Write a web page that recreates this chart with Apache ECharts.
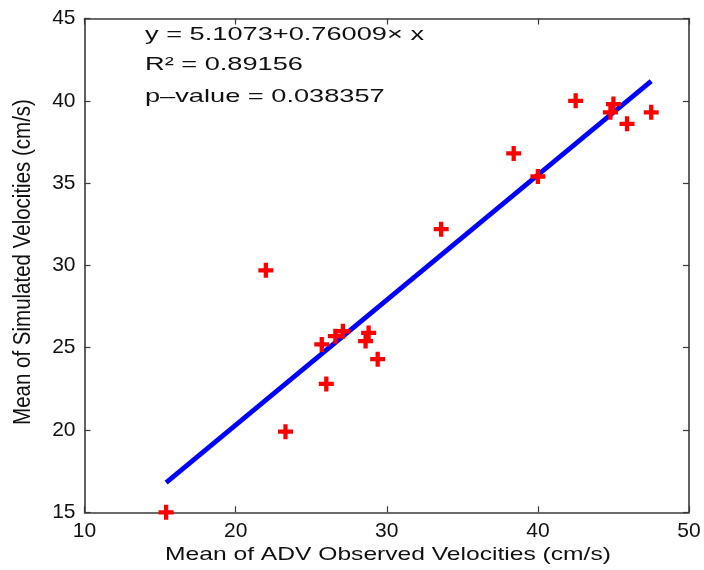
<!DOCTYPE html>
<html>
<head>
<meta charset="utf-8">
<script src="https://cdn.jsdelivr.net/npm/echarts@6/dist/echarts.min.js"></script>
<style>html,body{margin:0;padding:0;background:#fff}#c{width:704px;height:570px}</style>
</head>
<body>
<div id="c"></div>
<script>
// Observed (x) and simulated (y) mean velocities, cm/s
var obsX = [15.4, 23.3, 26.0, 25.7, 26.6, 27.1, 28.8, 28.6, 29.4, 22.0, 33.6, 40.0, 38.4, 42.5, 45.0, 44.8, 45.9, 47.5];
var simY = [15.0, 19.9, 22.8, 25.2, 25.7, 26.0, 25.9, 25.4, 24.3, 29.7, 32.2, 35.4, 36.8, 40.0, 39.8, 39.3, 38.6, 39.3];
// Regression line endpoints
var fitX = [15.4, 47.5];
var fitY = [16.8, 41.2];
var xTicks = [10, 20, 30, 40, 50];
var yTicks = [15, 20, 25, 30, 35, 40, 45];
var annotation = ['y = 5.1073+0.76009\u00d7 x', 'R\u00b2 = 0.89156', 'p\u2013value = 0.038357'];
var xTitle = 'Mean of ADV Observed Velocities (cm/s)';
var yTitle = 'Mean of Simulated Velocities (cm/s)';

var chart = echarts.init(document.getElementById('c'), null, {renderer: 'canvas'});
var axisColor = '#3a3a3a';
var font = 'Liberation Sans, Arial, Helvetica, sans-serif';
function xAx(pos, show) {
  return {
    type: 'value', position: pos, min: xTicks[0], max: xTicks[xTicks.length - 1], interval: 10,
    axisLine: {show: true, onZero: false, lineStyle: {color: axisColor, width: 1.6}},
    axisTick: {show: true, inside: true, length: 6, lineStyle: {color: axisColor, width: 1.2}},
    axisLabel: {show: show, color: '#111', fontFamily: font, fontSize: 21, margin: 8},
    splitLine: {show: false}
  };
}
function yAx(pos, show) {
  return {
    type: 'value', position: pos, min: yTicks[0], max: yTicks[yTicks.length - 1], interval: 5,
    axisLine: {show: true, onZero: false, lineStyle: {color: axisColor, width: 1.6}},
    axisTick: {show: true, inside: true, length: 6, lineStyle: {color: axisColor, width: 1.2}},
    axisLabel: {show: show, color: '#111', fontFamily: font, fontSize: 21, margin: 9},
    splitLine: {show: false}
  };
}
var plusPath = 'path://M5,0 H9 V5 H14 V9 H9 V14 H5 V9 H0 V5 H5 Z';

chart.setOption({
  backgroundColor: '#fff',
  animation: false,
  grid: {left: 84.5, right: 15, top: 18.5, bottom: 57.7, containLabel: false},
  xAxis: [xAx('bottom', true), xAx('top', false)],
  yAxis: [yAx('left', true), yAx('right', false)],
  series: [
    {
      type: 'line', xAxisIndex: 0, yAxisIndex: 0,
      data: fitX.map(function (v, i) { return [v, fitY[i]]; }),
      showSymbol: false, symbol: 'none',
      lineStyle: {color: '#0000ff', width: 4.8}, z: 2
    },
    {
      type: 'scatter', xAxisIndex: 0, yAxisIndex: 0,
      data: obsX.map(function (v, i) { return [v, simY[i]]; }),
      symbol: plusPath, symbolSize: 15,
      itemStyle: {color: '#ff0000', opacity: 1}, z: 3
    }
  ],
  graphic: [
    {type: 'text', left: 145, top: 25, scaleX: 1.47, style: {text: annotation[0], fill: '#111', font: '18.5px ' + font}},
    {type: 'text', left: 145, top: 55, scaleX: 1.47, style: {text: annotation[1], fill: '#111', font: '18.5px ' + font}},
    {type: 'text', left: 145, top: 87, scaleX: 1.47, style: {text: annotation[2], fill: '#111', font: '18.5px ' + font}},
    {type: 'text', x: 388, y: 555, scaleX: 1.33, style: {text: xTitle, fill: '#111', font: '18.5px ' + font, textAlign: 'center', textVerticalAlign: 'middle'}},
    {type: 'text', x: 23, y: 262, rotation: Math.PI / 2, scaleY: 1.2, style: {text: yTitle, fill: '#111', font: '20.5px ' + font, textAlign: 'center', textVerticalAlign: 'middle'}}
  ]
});
</script>
</body>
</html>
